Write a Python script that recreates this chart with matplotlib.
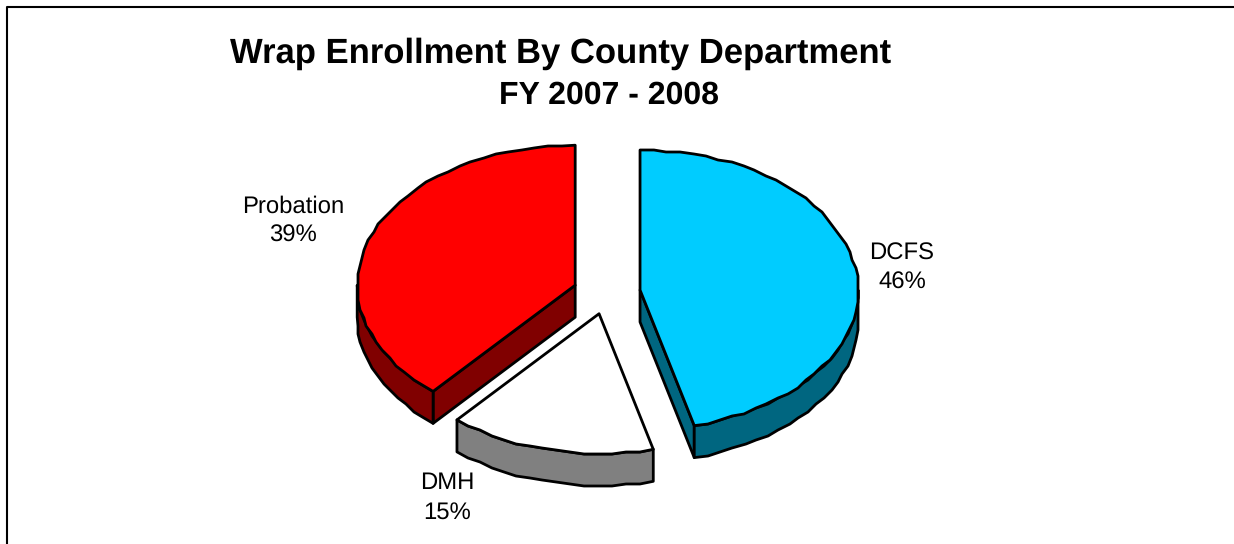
import numpy as np
import matplotlib
matplotlib.use('Agg')
import matplotlib.pyplot as plt
from matplotlib.patches import Polygon

departments = ['DCFS', 'DMH', 'Probation']
shares = [46.0, 15.3, 38.7]
top_colors = ['#00CCFF', '#FFFFFF', '#FF0000']
side_colors = ['#006680', '#808080', '#800000']
label_pos = [(902, 268), (447, 498), (293, 221)]

title_main = 'Wrap Enrollment By County Department'
title_sub = 'FY 2007 - 2008'

plt.rcParams['font.family'] = ['Liberation Sans', 'DejaVu Sans']
plt.rcParams['text.hinting'] = 'no_hinting'
plt.rcParams['text.hinting_factor'] = 8

# pie geometry, in picture pixels
cx, cy = 606.7, 292.7
rx, ry = 218, 140
depth = 32
explode = 33.6
seg = 3.5   # the original outline is a polyline with short flat steps
snap = 2.0  # and its vertices sit on a coarse grid
lw = 2.0


def rim(a0, a1, ox, oy):
    n = max(2, int(abs(a1 - a0) / seg) + 1)
    t = np.radians(np.linspace(a0, a1, n))
    pts = np.column_stack([ox + rx * np.sin(t), oy - ry * np.cos(t)])
    inner = np.round(pts[1:-1] / snap) * snap
    return np.vstack([pts[:1], inner, pts[-1:]])


fig = plt.figure(figsize=(12.34, 5.44), dpi=100)
ax = fig.add_axes([0, 0, 1, 1])
ax.set_xlim(0, 1234)
ax.set_ylim(544, 0)
ax.axis('off')

# frame, only top and left are inside the picture
ax.plot([6.5, 6.5, 1234], [544, 6.5, 6.5], color='black', lw=1.5)

starts = np.cumsum([0] + shares[:-1]) * 3.6
ends = np.cumsum(shares) * 3.6

for i in range(len(shares)):
    a0, a1 = starts[i], ends[i]
    mid = np.radians((a0 + a1) / 2)
    ox = cx + explode * np.sin(mid)
    oy = cy - explode * np.cos(mid) * ry / rx
    edge = rim(a0, a1, ox, oy)

    # cut faces that show on the front
    if a0 >= 180 or a1 <= 180:
        p = edge[0] if a0 >= 180 else edge[-1]
        face = [(ox, oy), p, (p[0], p[1] + depth), (ox, oy + depth)]
        ax.add_patch(Polygon(face, fc=side_colors[i], ec='black', lw=lw, joinstyle='round', zorder=2))

    # outer wall, only where the rim faces down
    wall = rim(max(a0, 90), min(a1, 270), ox, oy)
    lower = wall[::-1] + [0, depth]
    ax.add_patch(Polygon(np.vstack([wall, lower]), fc=side_colors[i], ec='black', lw=lw, joinstyle='round', zorder=3))

    # top of the slice
    top = np.vstack([[ox, oy], edge])
    ax.add_patch(Polygon(top, fc=top_colors[i], ec='black', lw=lw, joinstyle='round', zorder=4))

    ax.text(label_pos[i][0], label_pos[i][1], departments[i] + '\n' + str(round(shares[i])) + '%',
            ha='center', va='center', fontsize=17.2, linespacing=1.42, color='black')

ax.text(561, 53.5, title_main, ha='center', va='center', fontsize=24.9, fontweight='bold')
ax.text(609, 95.5, title_sub, ha='center', va='center', fontsize=23, fontweight='bold')

fig.savefig('out.png', dpi=100)
